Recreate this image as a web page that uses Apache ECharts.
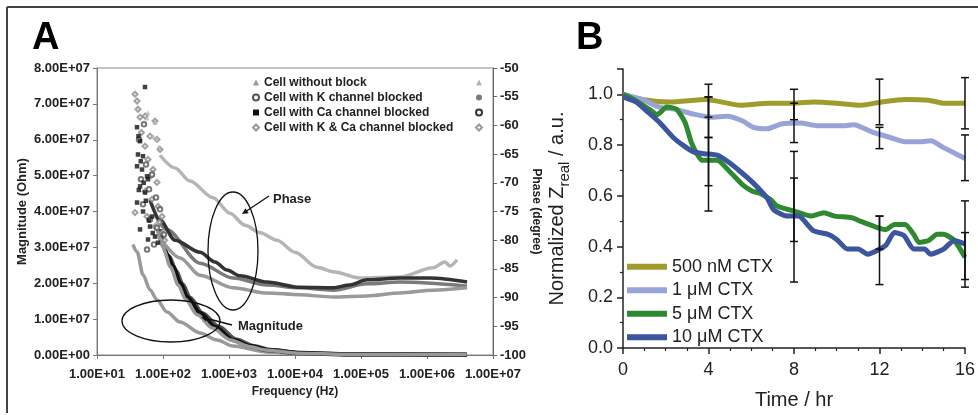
<!DOCTYPE html>
<html><head><meta charset="utf-8">
<script src="https://cdn.jsdelivr.net/npm/echarts@6/dist/echarts.min.js"></script>
<style>html,body{margin:0;padding:0;background:#fff}#c{width:978px;height:415px}</style>
</head><body><div id="c"></div>
<script>
// ---------------- Panel A data (frequency Hz, value) ----------------
const legendNamesA = ['Cell without block','Cell with K channel blocked','Cell with Ca channel blocked','Cell with K & Ca channel blocked'];
const phaseNamesA = ['Phase: without block','Phase: K blocked','Phase: Ca blocked','Phase: K & Ca blocked'];

const magWithout = [[35,3.08e7],[40.4,2.88e7],[49.8,2.24e7],[63.5,1.82e7],[81,1.54e7],[115,1.20e7],[181,0.92e7],[364,0.615e7],[658,0.42e7],[1150,0.25e7],[3767,0.084e7],[11900,0.028e7],[4.04e6,0.005e7]];
const magK = [[95,3.3e7],[125,2.75e7],[160,2.35e7],[200,1.98e7],[260,1.6e7],[400,1.17e7],[700,0.8e7],[1300,0.44e7],[2400,0.26e7],[4300,0.15e7],[13000,0.06e7],[70000,0.02e7],[4.0e6,0.012e7]];
const magCa = [[90,3.5e7],[115,2.8e7],[142,2.46e7],[181,2.01e7],[231,1.62e7],[364,1.17e7],[614,0.78e7],[1150,0.42e7],[2100,0.25e7],[3767,0.14e7],[11900,0.056e7],[68000,0.014e7],[4.04e6,0.01e7]];
const magKCa = [[80,3.6e7],[100,3.0e7],[130,2.45e7],[170,1.95e7],[220,1.55e7],[330,1.12e7],[560,0.75e7],[1050,0.42e7],[2000,0.24e7],[3500,0.14e7],[11000,0.05e7],[60000,0.015e7],[4.0e6,0.01e7]];
const noiseCa = [[53.4,7.47e7],[40.4,6.35e7],[44.9,5.96e7],[41.8,5.59e7],[49.8,5.54e7],[40.4,5.26e7],[48.1,5.17e7],[57.3,4.98e7],[44.9,4.70e7],[53.4,4.53e7],[59.3,4.90e7],[40.4,4.25e7],[49.8,4.00e7],[68.1,3.86e7],[44.9,3.50e7],[63.5,3.58e7],[75.7,3.30e7],[59.3,3.22e7],[84.0,3.13e7],[42.5,6.1e7],[46,5.4e7],[51,4.8e7],[55,4.3e7],[43,4.6e7],[61,3.75e7],[70,3.4e7]];
const noiseK = [[55.2,5.31e7],[68.1,5.03e7],[61.4,4.62e7],[78.3,4.39e7],[49.8,4.20e7],[90.1,4.06e7],[63.5,3.78e7],[81.1,3.55e7],[103.5,3.36e7],[57.3,2.94e7],[73.1,3.08e7],[46.4,4.90e7],[43.3,6.01e7],[51.5,6.43e7]];
const noiseKCa = [[37.7,7.27e7],[40.4,7.08e7],[41.8,6.85e7],[44.9,6.63e7],[53.4,6.66e7],[75.7,6.52e7],[63.5,6.10e7],[81.1,6.01e7],[90.1,5.73e7],[53.4,5.82e7],[59.3,5.45e7],[70.5,5.17e7],[81.1,4.81e7],[53.4,4.56e7],[68.1,4.34e7],[84.0,4.14e7],[96.6,3.86e7],[57.3,3.86e7],[75.7,3.58e7],[96.6,3.41e7],[37.7,3.97e7],[47,6.2e7],[66,5.0e7],[88,3.7e7],[106,3.2e7]];

const phWithout = [[90,-65.2],[152,-67.4],[256,-69.7],[572,-72.6],[1035,-75.3],[1746,-77.4],[2951,-78.7],[5333,-80.0],[10000,-82.1],[21500,-84.7],[37650,-85.5],[96600,-86.6],[390000,-86.4],[1230000,-84.8],[1870000,-83.8],[2230000,-84.5],[2850000,-83.4]];
const phWithoutNoise = [[59,-57.8],[76,-59.4],[57,-58.7],[75.7,-59.4],[81,-62.5],[72,-62.0],[86,-63.8]];
const phCa = [[63.5,-73.0],[90,-76.5],[152,-80.0],[364,-82.1],[614,-83.8],[933,-85.2],[1468,-86.2],[3767,-87.3],[11900,-88.2],[37650,-88.3],[68000,-87.8],[123000,-86.9],[390000,-86.6],[1110000,-86.6],[4040000,-87.3]];
const phK = [[76,-75.6],[115,-78.2],[364,-84.0],[1150,-86.6],[3767,-87.8],[11900,-88.3],[37650,-88.7],[123000,-87.6],[390000,-87.3],[4040000,-88.0]];
const phKCa = [[90,-79.6],[181,-83.1],[364,-86.1],[1150,-88.3],[3767,-89.2],[11900,-89.5],[37650,-89.9],[123000,-89.7],[390000,-89.2],[1230000,-88.7],[4040000,-88.3]];

// ---------------- Panel B data (time hr, normalized Zreal) ----------------
const legendNamesB = ['500 nM CTX','1 \u03bcM CTX','5 \u03bcM CTX','10 \u03bcM CTX'];
const ctx500 = [[0,1.0],[0.9,0.98],[2.2,0.97],[3.9,0.98],[5.5,0.957],[6.8,0.965],[8,0.965],[8.9,0.97],[10,0.965],[11.1,0.957],[12.1,0.97],[13.2,0.98],[14.3,0.977],[15,0.965],[16,0.965]];
const ctx1 = [[0,1.0],[0.9,0.98],[1.7,0.95],[2.5,0.94],[3.3,0.922],[4.1,0.91],[4.9,0.914],[5.6,0.895],[6.1,0.87],[6.75,0.864],[7.4,0.883],[8.3,0.887],[9.1,0.876],[10.3,0.876],[10.8,0.88],[11.7,0.85],[12.5,0.83],[13.2,0.813],[13.9,0.813],[14.4,0.817],[15,0.79],[16,0.747]];
const ctx5 = [[0,1.0],[0.5,0.98],[1.25,0.94],[1.6,0.92],[2.05,0.95],[2.5,0.942],[2.9,0.89],[3.2,0.81],[3.5,0.76],[3.7,0.74],[4.4,0.74],[5.0,0.695],[5.6,0.643],[6.05,0.618],[6.4,0.61],[6.9,0.585],[7.2,0.56],[8,0.54],[8.8,0.52],[9.4,0.533],[9.9,0.52],[10.7,0.514],[11.1,0.50],[11.9,0.475],[12.3,0.467],[12.7,0.487],[13.2,0.487],[13.6,0.448],[13.85,0.416],[14.3,0.424],[14.7,0.448],[15,0.448],[15.5,0.424],[16,0.358]];
const ctx10 = [[0,0.99],[0.6,0.97],[1.1,0.935],[1.7,0.89],[2.35,0.83],[2.8,0.80],[3.3,0.773],[3.8,0.766],[4.4,0.76],[4.9,0.735],[5.5,0.695],[6.1,0.65],[6.75,0.59],[7.05,0.545],[7.7,0.52],[8.2,0.52],[8.9,0.463],[9.6,0.448],[10,0.428],[10.5,0.39],[11,0.39],[11.45,0.37],[11.9,0.385],[12.3,0.405],[12.7,0.455],[13.15,0.443],[13.6,0.39],[14.1,0.39],[14.4,0.37],[15,0.39],[15.5,0.424],[16,0.41]];
// error bars: [time, low, high]
const err500 = [[4,0.91,1.04],[8,0.90,1.02],[12,0.88,1.06],[16,0.864,1.066]];
const err1 = [[4,0.83,0.99],[8,0.81,0.965],[12,0.786,0.87],[16,0.66,0.84]];
const err5 = [[4,0.64,0.83],[8,0.42,0.67],[12,0.39,0.52],[16,0.27,0.455]];
const err10 = [[4,0.54,0.99],[8,0.26,0.775],[12,0.25,0.52],[16,0.24,0.58]];

// ---------------- rendering ----------------
const FF = '"Liberation Sans", Arial, sans-serif';
function sci(v){
  if (v === 0) return '0.00E+00';
  const e = Math.floor(Math.log10(Math.abs(v)) + 1e-9);
  const m = v / Math.pow(10, e);
  return m.toFixed(2) + 'E' + (e < 0 ? '-' : '+') + String(Math.abs(e)).padStart(2, '0');
}
const tA = {fontFamily: FF, fontSize: 13, fontWeight: 'bold', color: '#222'};
function lineA(name, data, color, yIdx, w){
  return {type:'line', name, data, xAxisIndex:0, yAxisIndex:yIdx, showSymbol:false, symbol:'circle',
    smooth:0.3, smoothMonotone:'x', lineStyle:{color, width:w || 3.5}, itemStyle:{color}, z:2, silent:true};
}
function lineB(name, data, color){
  return {type:'line', name, data, xAxisIndex:1, yAxisIndex:2, showSymbol:false, smooth:0.2,
    lineStyle:{color, width:5}, itemStyle:{color}, z:3, silent:true};
}
function renderErr(params, api){
  const x = api.value(0), lo = api.value(1), hi = api.value(2);
  const a = api.coord([x, lo]), b = api.coord([x, hi]);
  const w = 4, st = {stroke:'#111', lineWidth:1.5};
  return {type:'group', children:[
    {type:'line', shape:{x1:a[0], y1:a[1], x2:b[0], y2:b[1]}, style:st},
    {type:'line', shape:{x1:a[0]-w, y1:a[1], x2:a[0]+w, y2:a[1]}, style:st},
    {type:'line', shape:{x1:b[0]-w, y1:b[1], x2:b[0]+w, y2:b[1]}, style:st}
  ]};
}

const chart = echarts.init(document.getElementById('c'), null, {renderer:'canvas'});
const axisGrey = {lineStyle:{color:'#777', width:1}};
const axisBlack = {lineStyle:{color:'#222', width:1.5}};
const tB = {fontFamily: FF, fontSize: 18, color: '#222'};

chart.setOption({
  animation:false,
  backgroundColor:'#fff',
  grid:[
    {left:97, top:68, width:396, height:287, show:true, borderColor:'#888', borderWidth:1, backgroundColor:'transparent'},
    {left:623, top:69, width:342, height:283}
  ],
  xAxis:[
    {type:'log', logBase:10, gridIndex:0, min:10, max:1e7,
     axisLine:axisGrey, axisTick:{show:true, length:4, lineStyle:{color:'#777'}},
     axisLabel:Object.assign({formatter:sci, margin:13}, tA), splitLine:{show:false}, minorTick:{show:false},
     name:'Frequency (Hz)', nameLocation:'middle', nameGap:31, nameTextStyle:{fontFamily:FF, fontSize:12, fontWeight:'bold', color:'#222'}},
    {type:'value', gridIndex:1, min:0, max:16, interval:4,
     axisLine:axisBlack, axisTick:{length:6, lineStyle:{color:'#222', width:1.5}},
     minorTick:{show:true, splitNumber:4, length:3, lineStyle:{color:'#222', width:1.2}},
     axisLabel:Object.assign({margin:13}, tB), splitLine:{show:false},
     name:'Time / hr', nameLocation:'middle', nameGap:42, nameTextStyle:{fontFamily:FF, fontSize:20, color:'#222'}}
  ],
  yAxis:[
    {type:'value', gridIndex:0, min:0, max:8e7, interval:1e7, position:'left',
     axisLine:Object.assign({show:true}, axisGrey), axisTick:{show:true, length:4, lineStyle:{color:'#777'}},
     axisLabel:Object.assign({formatter:sci, margin:7}, tA), splitLine:{show:false},
     name:'Magnitude (Ohm)', nameLocation:'middle', nameGap:68, nameRotate:90,
     nameTextStyle:{fontFamily:FF, fontSize:13, fontWeight:'bold', color:'#222'}},
    {type:'value', gridIndex:0, min:-100, max:-50, interval:5, position:'right',
     axisLine:{show:true, lineStyle:{color:'#666', width:1}}, axisTick:{show:true, length:4, lineStyle:{color:'#666'}},
     axisLabel:Object.assign({margin:7}, tA), splitLine:{show:false},
     name:'Phase (degree)', nameLocation:'middle', nameGap:33, nameRotate:-90,
     nameTextStyle:{fontFamily:FF, fontSize:12, fontWeight:'bold', color:'#222'}},
    {type:'value', gridIndex:1, min:0, max:1.1, interval:0.2,
     axisLine:Object.assign({show:true}, axisBlack), axisTick:{show:true, length:6, lineStyle:{color:'#222', width:1.5}},
     minorTick:{show:true, splitNumber:2, length:3, lineStyle:{color:'#222', width:1.2}},
     axisLabel:Object.assign({margin:10, formatter:v => Math.abs(v-1.1) < 1e-6 ? '' : v.toFixed(1)}, tB),
     splitLine:{show:false},
     name:'{m|Normalized Z}{s|real}{m| / a.u.}', nameLocation:'middle', nameGap:51, nameRotate:90,
     nameTextStyle:{color:'#222', fontFamily:FF,
       rich:{m:{fontSize:20, lineHeight:30, fontFamily:FF, color:'#222'},
             s:{fontSize:15, lineHeight:15, verticalAlign:'bottom', fontFamily:FF, color:'#222'}}}}
  ],
  legend:[
    {left:247, top:70, orient:'vertical', itemWidth:6, itemHeight:6, itemGap:0, selectedMode:false,
     data:[{name:legendNamesA[0], icon:'triangle'},{name:legendNamesA[1], icon:'emptyCircle'},
           {name:legendNamesA[2], icon:'rect'},{name:legendNamesA[3], icon:'emptyDiamond'}],
     textStyle:{fontFamily:FF, fontSize:12, fontWeight:'bold', color:'#222', lineHeight:15}},
    {left:470, top:70, orient:'vertical', itemWidth:6, itemHeight:6, itemGap:0, selectedMode:false,
     formatter:() => ' ',
     data:[{name:phaseNamesA[0], icon:'triangle'},{name:phaseNamesA[1], icon:'circle', itemWidth:4, itemHeight:4},
           {name:phaseNamesA[2], icon:'emptyCircle'},{name:phaseNamesA[3], icon:'emptyDiamond'}],
     textStyle:{fontFamily:FF, fontSize:12, lineHeight:15}},
    {left:622, top:250, orient:'vertical', itemWidth:40, itemHeight:6, itemGap:0, selectedMode:false,
     icon:'rect', data:legendNamesB,
     textStyle:{fontFamily:FF, fontSize:18, color:'#222', lineHeight:23.5}}
  ],
  series:[
    // Panel A magnitude (left axis)
    lineA(legendNamesA[0], magWithout, '#9a9a9a', 0),
    lineA(legendNamesA[1], magK, '#555', 0),
    lineA(legendNamesA[2], magCa, '#111', 0, 4.5),
    lineA(legendNamesA[3], magKCa, '#999', 0),
    {type:'scatter', name:legendNamesA[3], data:noiseKCa, xAxisIndex:0, yAxisIndex:0, symbol:'emptyDiamond', symbolSize:5,
     itemStyle:{color:'#8a8a8a', borderWidth:1.2}, silent:true},
    {type:'scatter', name:legendNamesA[1], data:noiseK, xAxisIndex:0, yAxisIndex:0, symbol:'emptyCircle', symbolSize:4.5,
     itemStyle:{color:'#555', borderWidth:1.2}, silent:true},
    {type:'scatter', name:legendNamesA[2], data:noiseCa, xAxisIndex:0, yAxisIndex:0, symbol:'rect', symbolSize:4.5,
     itemStyle:{color:'#111'}, silent:true},
    // Panel A phase (right axis)
    lineA(phaseNamesA[0], phWithout, '#b5b5b5', 1),
    {type:'scatter', name:phaseNamesA[0], data:phWithoutNoise, xAxisIndex:0, yAxisIndex:1, symbol:'triangle', symbolSize:5,
     itemStyle:{color:'#b5b5b5'}, silent:true},
    lineA(phaseNamesA[1], phK, '#7a7a7a', 1),
    lineA(phaseNamesA[2], phCa, '#333', 1),
    lineA(phaseNamesA[3], phKCa, '#9a9a9a', 1),
    // Panel B
    lineB(legendNamesB[0], ctx500, '#9e9c2c'),
    lineB(legendNamesB[1], ctx1, '#98a4d8'),
    lineB(legendNamesB[2], ctx5, '#2e8a30'),
    lineB(legendNamesB[3], ctx10, '#3b559e'),
    {type:'custom', xAxisIndex:1, yAxisIndex:2, data:[].concat(err500, err1, err5, err10),
     encode:{x:0, y:[1,2]}, renderItem:renderErr, z:5, silent:true}
  ],
  graphic:[
    {type:'line', shape:{x1:7, y1:7, x2:978, y2:7}, style:{stroke:'#444', lineWidth:2}},
    {type:'line', shape:{x1:7, y1:7, x2:7, y2:413}, style:{stroke:'#444', lineWidth:2}},
    {type:'text', x:32, y:39, style:{text:'A', font:'bold 38px "Liberation Sans", Arial', fill:'#000', verticalAlign:'middle'}},
    {type:'text', x:576, y:39, style:{text:'B', font:'bold 38px "Liberation Sans", Arial', fill:'#000', verticalAlign:'middle'}},
    {type:'ellipse', shape:{cx:233, cy:251, rx:25, ry:59}, style:{fill:'none', stroke:'#111', lineWidth:1.3}, z:10},
    {type:'ellipse', shape:{cx:171, cy:321, rx:49, ry:21}, style:{fill:'none', stroke:'#111', lineWidth:1.3}, z:10},
    {type:'line', shape:{x1:269, y1:196, x2:245, y2:212}, style:{stroke:'#111', lineWidth:1.3}, z:10},
    {type:'polygon', shape:{points:[[242,214],[248.6,213.2],[245.4,208.2]]}, style:{fill:'#111'}, z:10},
    {type:'line', shape:{x1:232, y1:325, x2:205, y2:318}, style:{stroke:'#111', lineWidth:1.3}, z:10},
    {type:'polygon', shape:{points:[[201,317],[207.5,315.6],[206,321.4]]}, style:{fill:'#111'}, z:10},
    {type:'text', x:273, y:199, style:{text:'Phase', font:'bold 13px "Liberation Sans", Arial', fill:'#222', verticalAlign:'middle'}, z:10},
    {type:'text', x:238, y:326, style:{text:'Magnitude', font:'bold 13px "Liberation Sans", Arial', fill:'#222', verticalAlign:'middle'}, z:10}
  ]
});
</script></body></html>
